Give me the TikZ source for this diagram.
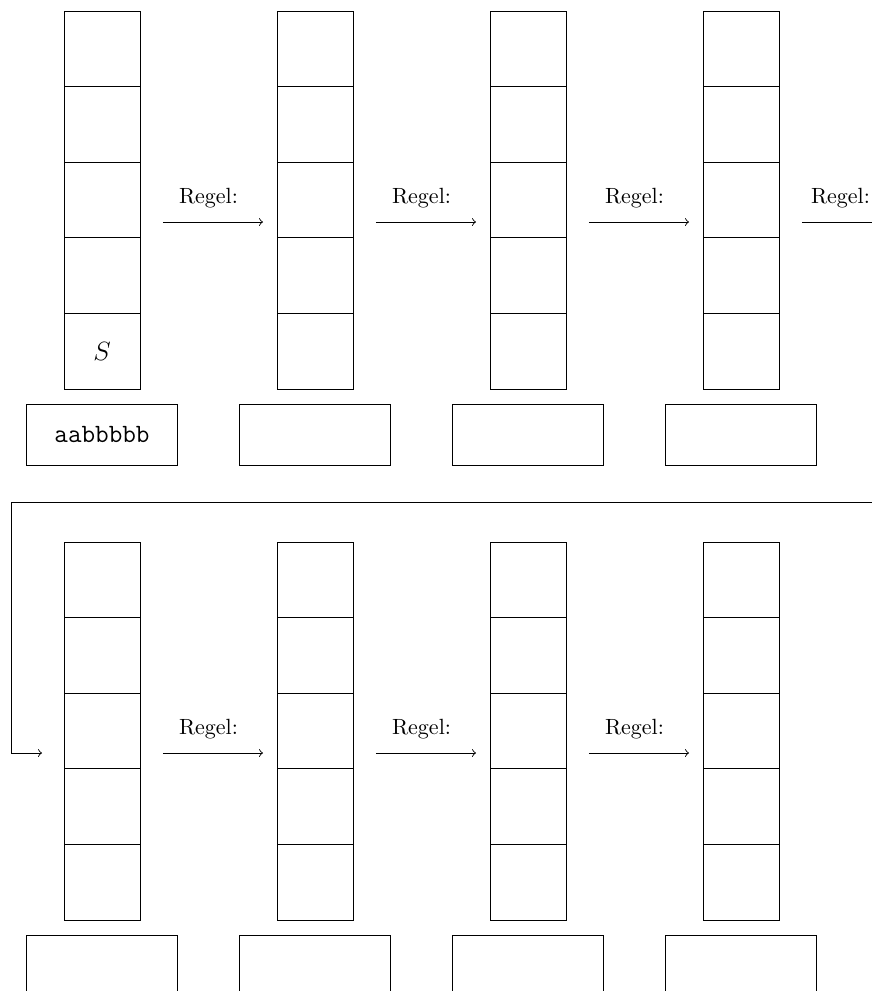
\documentclass[tikz,border=0pt]{standalone}
\begin{document}
\begin{tikzpicture}[x=0.4545pt,y=-0.4545pt,
  cell/.style={draw,minimum width=34.54pt,minimum height=34.36pt,inner sep=0pt,outer sep=0pt,font=\large},
  wordbox/.style={draw,minimum width=68.6pt,minimum height=27.7pt,inner sep=0pt,outer sep=0pt,font=\large\ttfamily},
  rulearrow/.style={->},
  rulelabel/.style={above=2.8pt,pos=0.455,font=\normalsize}]
\clip (0,0) rectangle (872,991);
\useasboundingbox (0,0) rectangle (872,991);
% stacks and word boxes
\foreach \r/\top/\wy in {1/11/434.5, 2/542/965.5}{
  \foreach \c in {1,...,4}{
    \pgfmathsetmacro{\cx}{102+213*(\c-1)}
    \foreach \k in {1,...,5}{
      \pgfmathsetmacro{\cy}{\top+37.8+75.6*(\k-1)}
      \node[cell] (s-\r-\c-\k) at (\cx,\cy) {};
    }
    \node[wordbox] (w-\r-\c) at (\cx,\wy) {};
  }
}
\node[font=\large] (sym) at (s-1-1-5.center) {$S$};
\node[font=\large\ttfamily] (word) at (w-1-1.center) {aabbbbb};
% rule arrows
\foreach \c/\n in {1/2,2/3,3/4}{
  \draw[rulearrow] ([shift={(23,22)}]s-1-\c-3.east) -- ([shift={(-14,22)}]s-1-\n-3.west)
    node[rulelabel] {Regel:};
  \draw[rulearrow] ([shift={(23,22)}]s-2-\c-3.east) -- ([shift={(-14,22)}]s-2-\n-3.west)
    node[rulelabel] {Regel:};
}
\coordinate (tail) at (902,222);
\draw[rulearrow] ([shift={(23,22)}]s-1-4-3.east) -- (tail) node[rulelabel,pos=0.385] {Regel:};
% wrap-around connector
\coordinate (wA) at (880,502);
\coordinate (wB) at (11,502);
\coordinate (wC) at (11,753);
\draw[rulearrow] (wA) -- (wB) -- (wC) -- ([shift={(-22,22)}]s-2-1-3.west);
\end{tikzpicture}
\end{document}
